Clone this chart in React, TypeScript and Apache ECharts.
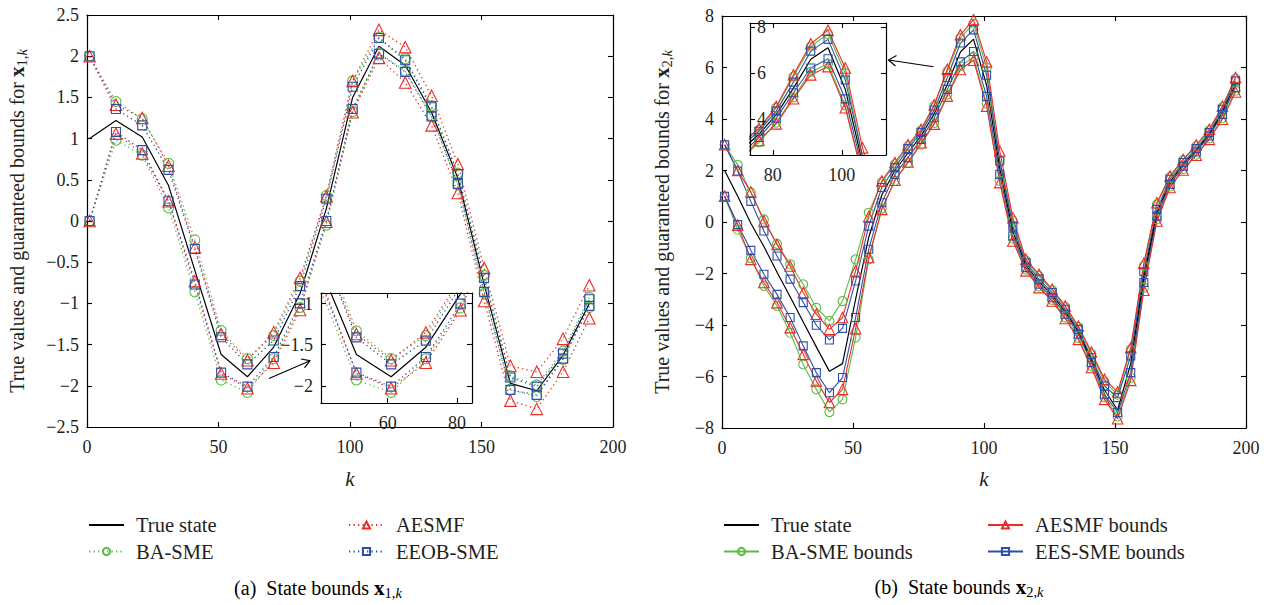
import React, { useEffect, useRef } from 'react';
import * as echarts from 'echarts';

// ---------- (a) state x1,k ----------
const kA = [1, 11, 21, 31, 41, 51, 61, 71, 81, 91, 101, 111, 121, 131, 141, 151, 161, 171, 181, 191];
const trueA = [1.0, 1.22, 1.02, 0.43, -0.6, -1.62, -1.89, -1.53, -0.88, 0.15, 1.5, 2.12, 1.89, 1.32, 0.52, -0.77, -1.97, -2.06, -1.63, -1.0];
const baUpA = [2.0, 1.45, 1.24, 0.7, -0.23, -1.33, -1.67, -1.39, -0.73, 0.31, 1.7, 2.23, 1.97, 1.4, 0.58, -0.66, -1.88, -1.99, -1.58, -0.93];
const baLoA = [0.0, 0.98, 0.8, 0.16, -0.86, -1.93, -2.08, -1.67, -1.05, -0.05, 1.33, 2.04, 1.82, 1.28, 0.44, -0.88, -2.05, -2.13, -1.68, -1.05];
const aeUpA = [2.0, 1.41, 1.25, 0.67, -0.32, -1.37, -1.69, -1.35, -0.69, 0.3, 1.7, 2.32, 2.11, 1.52, 0.69, -0.57, -1.76, -1.83, -1.43, -0.78];
const aeLoA = [0.0, 1.06, 0.82, 0.24, -0.73, -1.85, -2.03, -1.72, -1.08, -0.01, 1.32, 1.98, 1.68, 1.16, 0.34, -0.97, -2.18, -2.28, -1.83, -1.18];
const eeUpA = [2.0, 1.36, 1.16, 0.62, -0.34, -1.41, -1.74, -1.45, -0.79, 0.27, 1.63, 2.22, 1.95, 1.38, 0.57, -0.69, -1.9, -2.01, -1.61, -0.95];
const eeLoA = [0.0, 1.08, 0.86, 0.24, -0.77, -1.84, -2.01, -1.65, -1.0, 0.0, 1.36, 2.03, 1.81, 1.27, 0.45, -0.86, -2.05, -2.11, -1.67, -1.03];

// ---------- (b) state x2,k ----------
const kB = [1, 6, 11, 16, 21, 26, 31, 36, 41, 46, 51, 56, 61, 66, 71, 76, 81, 86, 91, 96, 101, 106, 111, 116, 121, 126, 131, 136, 141, 146, 151, 156, 161, 166, 171, 176, 181, 186, 191, 196];
const trueB = [2.0, 1.0, -0.05, -0.95, -1.95, -2.9, -3.88, -4.85, -5.8, -5.5, -3.0, -0.6, 1.05, 2.0, 2.68, 3.35, 4.2, 5.35, 6.6, 7.1, 5.3, 2.1, -0.35, -1.68, -2.32, -2.84, -3.48, -4.26, -5.36, -6.53, -7.3, -5.5, -2.15, 0.36, 1.56, 2.24, 2.78, 3.4, 4.28, 5.35];
const eeUpB = [3.0, 1.98, 0.8, -0.35, -1.32, -2.22, -3.13, -4.01, -4.58, -4.13, -2.29, -0.16, 1.34, 2.11, 2.85, 3.48, 4.35, 5.61, 6.95, 7.46, 5.7, 2.37, -0.16, -1.58, -2.22, -2.74, -3.39, -4.17, -5.27, -6.37, -6.82, -5.2, -1.93, 0.49, 1.66, 2.31, 2.85, 3.47, 4.38, 5.48];
const eeLoB = [1.0, -0.1, -1.1, -2.03, -2.81, -3.71, -4.81, -5.85, -6.63, -6.04, -3.71, -1.06, 0.75, 1.85, 2.5, 3.21, 4.05, 5.15, 6.22, 6.62, 4.88, 1.85, -0.54, -1.77, -2.42, -2.94, -3.58, -4.36, -5.46, -6.69, -7.4, -5.85, -2.35, 0.23, 1.46, 2.17, 2.72, 3.34, 4.18, 5.22];
const aeUpB = [3.0, 2.0, 1.17, 0.04, -0.87, -1.71, -2.74, -3.58, -4.17, -3.71, -1.9, 0.21, 1.59, 2.31, 3.0, 3.6, 4.55, 5.93, 7.27, 7.86, 6.22, 2.76, 0.17, -1.45, -2.03, -2.61, -3.26, -4.04, -5.05, -6.11, -6.6, -4.88, -1.6, 0.75, 1.79, 2.43, 2.99, 3.6, 4.5, 5.61];
const aeLoB = [1.0, -0.12, -1.45, -2.35, -3.13, -4.1, -5.14, -6.17, -7.01, -6.5, -4.14, -1.38, 0.49, 1.62, 2.33, 3.08, 3.8, 4.89, 5.92, 6.28, 4.5, 1.53, -0.74, -1.9, -2.55, -3.07, -3.75, -4.56, -5.65, -6.89, -7.64, -6.15, -2.65, 0.04, 1.34, 2.02, 2.59, 3.21, 3.99, 5.05];
const baUpB = [3.0, 2.22, 1.15, 0.1, -0.85, -1.64, -2.42, -3.33, -3.84, -3.07, -1.45, 0.36, 1.55, 2.25, 2.95, 3.55, 4.5, 5.85, 7.15, 7.7, 6.0, 2.4, 0.05, -1.5, -2.1, -2.65, -3.3, -4.08, -5.12, -6.2, -6.7, -4.95, -1.7, 0.68, 1.75, 2.4, 2.95, 3.56, 4.46, 5.57];
const baLoB = [1.0, -0.3, -1.4, -2.48, -3.26, -4.3, -5.53, -6.5, -7.38, -6.89, -4.49, -1.45, 0.52, 1.6, 2.3, 3.0, 3.85, 4.95, 6.05, 6.4, 4.6, 1.6, -0.65, -1.85, -2.5, -3.02, -3.7, -4.5, -5.6, -6.8, -7.55, -6.05, -2.55, 0.1, 1.38, 2.06, 2.62, 3.25, 4.03, 5.1];

// ---------- axis ticks ----------
const xTicksMain = { min: 0, max: 200, interval: 50 };
const yTicksA = { min: -2.5, max: 2.5, interval: 0.5 };
const yTicksB = { min: -8, max: 8, interval: 2 };
const insetA = { xMin: 40.8, xMax: 84.3, yMin: -2.21, yMax: -0.87, xTicks: [60, 80], yTicks: [-2, -1.5, -1] };
const insetB = { xMin: 73.4, xMax: 112.8, yMin: 2.45, yMax: 8.17, xTicks: [80, 100], yTicks: [4, 6, 8] };

const namesA = { tru: 'True state', ba: 'BA-SME', ae: 'AESMF', ee: 'EEOB-SME' };
const namesB = { tru: 'True state', ba: 'BA-SME bounds', ae: 'AESMF bounds', ee: 'EES-SME bounds' };

const FONT = "'Liberation Serif', serif";
const TXT = '#231f20';
const GREEN = '#5cbb46';
const RED = '#ee2b25';
const BLUE = '#2f4ea6';

const fmt = (v: number) => String(v).replace('-', '\u2212');
const zip = (k: number[], v: number[]) => k.map((x, i) => [x, v[i]]);

function ser(name: string, k: number[], v: number[], color: string, symbol: string | null, size: number, dotted: boolean, ai: number, z: number) {
  return {
    type: 'line',
    name,
    data: zip(k, v),
    xAxisIndex: ai,
    yAxisIndex: ai,
    symbol: symbol || 'none',
    showSymbol: !!symbol,
    symbolSize: size,
    lineStyle: { color, width: dotted ? 1.3 : symbol ? 1.1 : 1.2, type: dotted ? [1.3, 3.2] : 'solid' },
    itemStyle: symbol
      ? { color: 'rgba(255,255,255,0)', borderColor: color, borderWidth: 1.1 }
      : { color: 'rgba(255,255,255,0)', borderColor: 'rgba(255,255,255,0)', borderWidth: 0 },
    clip: true,
    silent: true,
    z,
    emphasis: { disabled: true },
  };
}

function group(names: any, k: number[], d: any, dotted: boolean, ai: number, z: number, sz: number) {
  return [
    ser(names.ba, k, d.baUp, GREEN, 'circle', sz, dotted, ai, z),
    ser(names.ba, k, d.baLo, GREEN, 'circle', sz, dotted, ai, z),
    ser(names.ae, k, d.aeUp, RED, 'triangle', sz + 1.5, dotted, ai, z),
    ser(names.ae, k, d.aeLo, RED, 'triangle', sz + 1.5, dotted, ai, z),
    ser(names.ee, k, d.eeUp, BLUE, 'rect', sz - 1, dotted, ai, z),
    ser(names.ee, k, d.eeLo, BLUE, 'rect', sz - 1, dotted, ai, z),
    ser(names.tru, k, d.tru, '#000', null, 0, false, ai, z),
  ];
}

const labelStyle = { fontFamily: FONT, fontSize: 18, color: TXT };

function xAx(grid: number, pos: string, r: any, labels: boolean, custom?: number[], z = 0) {
  const ax: any = {
    type: 'value', gridIndex: grid, position: pos, min: r.min, max: r.max,
    axisLine: { show: true, onZero: false, lineStyle: { color: '#000', width: 1.2 } },
    axisTick: { show: true, inside: true, length: 5, lineStyle: { color: '#000', width: 1.1 } },
    axisLabel: { show: labels, ...labelStyle, margin: 11, formatter: fmt },
    splitLine: { show: false }, z,
  };
  if (r.interval !== undefined) ax.interval = r.interval;
  if (custom) {
    ax.axisTick.customValues = custom;
    ax.axisLabel.customValues = custom;
  }
  return ax;
}
function yAx(grid: number, pos: string, r: any, labels: boolean, custom?: number[], z = 0, inside = false, margin = 8) {
  const ax: any = {
    type: 'value', gridIndex: grid, position: pos, min: r.min, max: r.max,
    axisLine: { show: true, onZero: false, lineStyle: { color: '#000', width: 1.2 } },
    axisTick: { show: true, inside: true, length: 5, lineStyle: { color: '#000', width: 1.1 } },
    axisLabel: { show: labels, ...labelStyle, margin, inside, formatter: fmt },
    splitLine: { show: false }, z,
  };
  if (r.interval !== undefined) ax.interval = r.interval;
  if (custom) {
    ax.axisTick.customValues = custom;
    ax.axisLabel.customValues = custom;
  }
  return ax;
}

const rich = {
  b: { fontFamily: FONT, fontSize: 21, fontWeight: 'bold', color: TXT, lineHeight: 24, verticalAlign: 'middle' },
  s: { fontFamily: FONT, fontSize: 14.5, color: TXT, lineHeight: 12, verticalAlign: 'bottom' },
  si: { fontFamily: FONT, fontSize: 14.5, fontStyle: 'italic', color: TXT, lineHeight: 12, verticalAlign: 'bottom' },
  n: { fontFamily: FONT, fontSize: 20, color: TXT, lineHeight: 24, verticalAlign: 'middle' },
};

function legend(left: number, data: string[]) {
  return {
    left, top: 514, orient: 'vertical', itemWidth: 35, itemHeight: 9, itemGap: 4.5, padding: 0,
    selectedMode: false, data,
    textStyle: { fontFamily: FONT, fontSize: 20.5, color: TXT, lineHeight: 22, padding: [0, 0, 0, 7] },
  };
}

export default function App() {
  const ref = useRef<HTMLDivElement>(null);
  useEffect(() => {
    const chart = echarts.init(ref.current!, undefined, { renderer: 'svg' });
    const dA = { tru: trueA, baUp: baUpA, baLo: baLoA, aeUp: aeUpA, aeLo: aeLoA, eeUp: eeUpA, eeLo: eeLoA };
    const dB = { tru: trueB, baUp: baUpB, baLo: baLoB, aeUp: aeUpB, aeLo: aeLoB, eeUp: eeUpB, eeLo: eeLoB };
    const iA = { min: insetA.xMin, max: insetA.xMax };
    const iAy = { min: insetA.yMin, max: insetA.yMax };
    const iB = { min: insetB.xMin, max: insetB.xMax };
    const iBy = { min: insetB.yMin, max: insetB.yMax };
    const kName = { fontFamily: FONT, fontSize: 21, fontStyle: 'italic', color: TXT };
    const option: any = {
      animation: false,
      backgroundColor: '#fff',
      textStyle: { fontFamily: FONT },
      grid: [
        { left: 87, top: 15, width: 526, height: 412 },
        { left: 722, top: 16, width: 524, height: 412 },
        { left: 321, top: 293, width: 151, height: 110, z: 10, show: true, backgroundColor: '#fff', borderWidth: 0 },
        { left: 750, top: 23, width: 136, height: 132, z: 10, show: true, backgroundColor: '#fff', borderWidth: 0 },
      ],
      xAxis: [
        { ...xAx(0, 'bottom', xTicksMain, true), name: 'k', nameLocation: 'middle', nameGap: 41, nameTextStyle: kName },
        xAx(0, 'top', xTicksMain, false),
        { ...xAx(1, 'bottom', xTicksMain, true), name: 'k', nameLocation: 'middle', nameGap: 40, nameTextStyle: kName },
        xAx(1, 'top', xTicksMain, false),
        xAx(2, 'bottom', iA, true, insetA.xTicks, 12),
        xAx(2, 'top', iA, false, insetA.xTicks, 12),
        xAx(3, 'bottom', iB, true, insetB.xTicks, 12),
        xAx(3, 'top', iB, false, insetB.xTicks, 12),
      ],
      yAxis: [
        {
          ...yAx(0, 'left', yTicksA, true), name: '{n|True values and guaranteed bounds for }{b|x}{s|1,}{si|k}',
          nameLocation: 'middle', nameGap: 58, nameRotate: 90,
          nameTextStyle: { fontFamily: FONT, fontSize: 20, color: TXT, rich },
        },
        yAx(0, 'right', yTicksA, false),
        {
          ...yAx(1, 'left', yTicksB, true), name: '{n|True values and guaranteed bounds for }{b|x}{s|2,}{si|k}',
          nameLocation: 'middle', nameGap: 48, nameRotate: 90,
          nameTextStyle: { fontFamily: FONT, fontSize: 20, color: TXT, rich },
        },
        yAx(1, 'right', yTicksB, false),
        yAx(2, 'left', iAy, true, insetA.yTicks, 12, false, 8),
        yAx(2, 'right', iAy, false, insetA.yTicks, 12),
        yAx(3, 'left', iBy, true, insetB.yTicks, 12, true, 7),
        yAx(3, 'right', iBy, false, insetB.yTicks, 12),
      ],
      legend: [
        legend(88, [namesA.tru, namesA.ba]),
        legend(348, [namesA.ae, namesA.ee]),
        legend(723, [namesB.tru, namesB.ba]),
        legend(987, [namesB.ae, namesB.ee]),
      ],
      series: [
        ...group(namesA, kA, dA, true, 0, 2, 10),
        ...group(namesB, kB, dB, false, 2, 2, 9),
        ...group(namesA, kA, dA, true, 4, 11, 10),
        ...group(namesB, kB, dB, false, 6, 11, 9),
      ],
      graphic: [
        { type: 'line', shape: { x1: 269, y1: 378.5, x2: 310, y2: 360.7 }, style: { stroke: '#000', lineWidth: 1.1 }, z: 20 },
        { type: 'polyline', shape: { points: [[301, 359], [310, 360.7], [304.5, 367.8]] }, style: { stroke: '#000', fill: 'none', lineWidth: 1.1 }, z: 20 },
        { type: 'line', shape: { x1: 933.5, y1: 66.7, x2: 888.5, y2: 60 }, style: { stroke: '#000', lineWidth: 1.1 }, z: 20 },
        { type: 'polyline', shape: { points: [[896.5, 55.5], [888.5, 60], [895.5, 66]] }, style: { stroke: '#000', fill: 'none', lineWidth: 1.1 }, z: 20 },
        {
          type: 'text', x: 318, y: 588, z: 20,
          style: { text: '{n|(a)  State bounds }{b|x}{s|1,}{si|k}', rich, align: 'center', verticalAlign: 'middle' },
        },
        {
          type: 'text', x: 959, y: 587, z: 20,
          style: { text: '{n|(b)  State bounds }{b|x}{s|2,}{si|k}', rich, align: 'center', verticalAlign: 'middle' },
        },
      ],
    };
    chart.setOption(option);
    return () => chart.dispose();
  }, []);
  return <div ref={ref} style={{ position: 'fixed', left: 0, top: 0, width: 1271, height: 605, background: '#fff' }} />;
}
